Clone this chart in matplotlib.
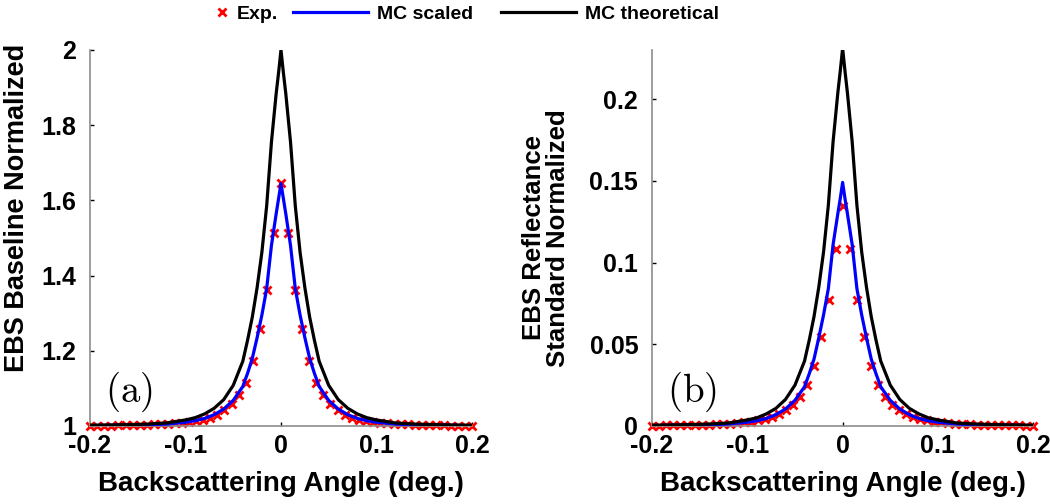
import numpy as np
import matplotlib
matplotlib.use("Agg")
import matplotlib.pyplot as plt
from matplotlib.ticker import FuncFormatter

plt.rcParams["font.family"] = ["Liberation Sans", "DejaVu Sans"]
plt.rcParams["font.weight"] = "bold"
plt.rcParams["mathtext.fontset"] = "cm"

# Exp. points: angle offsets from the peak (deg.), profile is symmetric
exp_offset = [0.0, 0.0074, 0.0148, 0.0222, 0.0296, 0.037, 0.0444, 0.0518,
              0.0592, 0.0666, 0.074, 0.0814, 0.0888, 0.0962, 0.1036, 0.111,
              0.1184, 0.1258, 0.1332, 0.1406, 0.148, 0.1554, 0.1628, 0.1702,
              0.1776, 0.185, 0.1924, 0.1998]
exp_a = [1.645, 1.514, 1.362, 1.257, 1.174, 1.115, 1.082, 1.058, 1.042, 1.030,
         1.022, 1.017, 1.013, 1.010, 1.008, 1.007, 1.006, 1.005, 1.004, 1.003,
         1.003, 1.002, 1.002, 1.002, 1.001, 1.001, 1.001, 1.000]
exp_b = [0.1345, 0.108, 0.0769, 0.0544, 0.0368, 0.0252, 0.018, 0.0129, 0.0095,
         0.0072, 0.0055, 0.0043, 0.0034, 0.0027, 0.0022, 0.0018, 0.0015, 0.0012,
         0.0010, 0.0008, 0.0007, 0.0006, 0.0005, 0.0004, 0.0003, 0.0003, 0.0002,
         0.0002]

# MC curves sampled at these offsets
mc_offset = [0.0, 0.0025, 0.005, 0.01, 0.015, 0.02, 0.025, 0.03, 0.035, 0.04,
             0.05, 0.06, 0.07, 0.08, 0.09, 0.1, 0.12, 0.14, 0.17, 0.2]
scaled_a = [1.645, 1.605, 1.565, 1.48, 1.365, 1.295, 1.235, 1.18, 1.14, 1.105,
            1.068, 1.045, 1.030, 1.020, 1.014, 1.010, 1.005, 1.003, 1.002, 1.001]
theory_a = [2.0, 1.94, 1.885, 1.755, 1.585, 1.462, 1.368, 1.29, 1.228, 1.172,
            1.108, 1.07, 1.047, 1.032, 1.022, 1.016, 1.008, 1.005, 1.003, 1.002]
scaled_b = [0.149, 0.139, 0.130, 0.111, 0.084, 0.068, 0.054, 0.041, 0.032, 0.024,
            0.0157, 0.0104, 0.0069, 0.0046, 0.0032, 0.0023, 0.0012, 0.0007,
            0.0005, 0.0002]
theory_b = [0.231, 0.217, 0.204, 0.174, 0.135, 0.1065, 0.085, 0.067, 0.0526,
            0.0397, 0.025, 0.0162, 0.0108, 0.0074, 0.005, 0.0037, 0.0018,
            0.0012, 0.0007, 0.0005]


def mirror(off, vals):
    off = np.asarray(off)
    vals = np.asarray(vals)
    x = np.concatenate([-off[:0:-1], off])
    y = np.concatenate([vals[:0:-1], vals])
    return x, y


fig = plt.figure(figsize=(10.5, 5.04), dpi=100)
ax_a = fig.add_axes([0.0857, 0.1548, 0.3638, 0.746])
ax_b = fig.add_axes([0.621, 0.1548, 0.363, 0.746])

panels = [
    (ax_a, exp_a, scaled_a, theory_a, (1, 2), [1, 1.2, 1.4, 1.6, 1.8, 2],
     "EBS Baseline Normalized", "(a)", (-0.158, 0.58), 19.5),
    (ax_b, exp_b, scaled_b, theory_b, (0, 0.23), [0, 0.05, 0.1, 0.15, 0.2],
     "EBS Reflectance\nStandard Normalized", "(b)", (-0.215, 0.5), 18.5),
]

fmt = FuncFormatter(lambda v, p: "%g" % round(v, 3))

for ax, ex, sc, th, ylim, yt, ylab, tag, ypos, yfs in panels:
    xe, ye = mirror(exp_offset, ex)
    xs, ys = mirror(mc_offset, sc)
    xt, yth = mirror(mc_offset, th)
    ax.plot(xe, ye, "x", color="red", ms=5.5, mew=2, label="Exp.",
            clip_on=False, zorder=2)
    ax.plot(xs, ys, color="blue", lw=2.3, label="MC scaled", zorder=3)
    ax.plot(xt, yth, color="black", lw=2.3, label="MC theoretical", zorder=4)
    ax.set_xlim(-0.2, 0.2)
    ax.set_ylim(*ylim)
    ax.set_xticks([-0.2, -0.1, 0, 0.1, 0.2])
    ax.set_yticks(yt)
    ax.xaxis.set_major_formatter(fmt)
    ax.yaxis.set_major_formatter(fmt)
    ax.tick_params(direction="in", length=3, width=1, labelsize=18)
    ax.tick_params(axis="y", pad=10)
    ax.tick_params(axis="x", pad=6)
    for s in ["top", "right"]:
        ax.spines[s].set_visible(False)
    for s in ["left", "bottom"]:
        ax.spines[s].set_color("0.55")
        ax.spines[s].set_linewidth(1.2)
    ax.set_xlabel("Backscattering Angle (deg.)", fontsize=20, fontweight="bold")
    ax.xaxis.set_label_coords(0.5, -0.12)
    ax.set_ylabel(ylab, fontsize=yfs, fontweight="bold", linespacing=1.0)
    ax.yaxis.set_label_coords(*ypos)
    ax.text(0.04, 0.09, r"$\mathrm{" + tag + "}$", transform=ax.transAxes,
            fontsize=28, va="center", ha="left")

handles, labels = ax_a.get_legend_handles_labels()
# marker entry and the two line entries as separate legends
fig.legend(handles[:1], labels[:1], loc="center left", frameon=False,
           bbox_to_anchor=(212 / 1050, 1 - 14 / 504), fontsize=14,
           handlelength=1.0, handletextpad=0.29, borderpad=0, borderaxespad=0)
fig.legend(handles[1:], labels[1:], loc="center left", ncol=2, frameon=False,
           bbox_to_anchor=(293 / 1050, 1 - 14 / 504), fontsize=14,
           handlelength=3.87, handletextpad=0.46, columnspacing=1.4,
           borderpad=0, borderaxespad=0)

fig.savefig("out.png", dpi=100)
